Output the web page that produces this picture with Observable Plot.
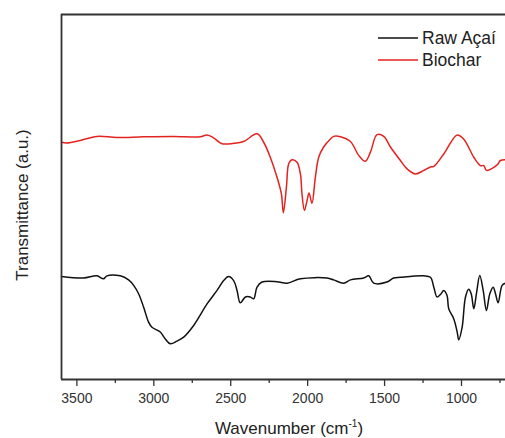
<!DOCTYPE html>
<html><head><meta charset="utf-8">
<script src="https://cdn.jsdelivr.net/npm/d3@7"></script>
<script src="https://cdn.jsdelivr.net/npm/@observablehq/plot@0.6"></script>
<style>
html,body{margin:0;padding:0;background:#fff;}
#chart{position:relative;width:505px;height:438px;overflow:hidden;}
</style></head>
<body><div id="chart"></div>
<script>
// Wavenumber (cm^-1) and transmittance (a.u.)
const rawWave = [3600,3457,3370,3327,3305,3218,3164,3131,3099,3066,3034,3012,2958,2925,2893,2850,2806,2741,2654,2589,2546,2514,2481,2459,2438,2405,2373,2351,2329,2297,2199,2134,2047,1874,1831,1766,1722,1636,1603,1571,1484,1441,1397,1245,1202,1180,1159,1137,1115,1094,1083,1050,1028,1018,996,974,953,937,920,903,881,859,838,816,794,779,762,736,714];
const rawValue = [28.2,27.8,28.4,27.6,28.4,28.4,27.3,25.8,23.5,19.8,15.7,14.3,13.0,11.1,9.8,10.5,11.6,14.8,20.7,24.4,27.1,28.2,27.1,24.4,21.0,22.6,22.6,22.1,25.3,26.7,26.8,26.4,27.6,27.8,27.3,26.4,27.3,27.8,28.4,26.4,26.7,27.8,28.0,28.4,28.0,25.3,22.6,23.3,24.4,23.0,19.4,16.6,13.0,10.9,14.3,22.6,24.7,23.5,19.4,23.5,28.5,24.4,18.9,23.5,25.3,23.5,21.0,25.8,26.4];
const bioWave = [3600,3565,3478,3370,3240,3066,2871,2698,2654,2611,2557,2481,2416,2329,2286,2243,2199,2171,2158,2138,2123,2102,2069,2047,2037,2021,2004,1991,1972,1950,1928,1896,1852,1831,1787,1722,1668,1625,1592,1549,1505,1462,1397,1354,1299,1245,1202,1180,1115,1028,985,920,877,855,838,768,747,714];
const bioValue = [65.0,64.8,65.5,66.6,66.3,66.5,66.6,66.5,67.0,66.2,64.6,64.7,65.2,67.3,65.0,60.9,55.4,50.9,45.7,52.7,59.1,60.2,59.5,56.3,50.9,46.3,49.0,51.1,48.3,55.4,60.9,63.7,65.9,66.6,66.5,65.2,61.4,59.8,62.3,67.1,66.6,63.7,60.0,57.7,56.3,57.3,58.2,58.4,61.8,67.0,65.8,60.9,58.6,58.6,57.3,58.8,60.0,60.2];
const seriesNames = ["Raw Açaí", "Biochar"];
const seriesColors = ["#111111", "#e3231f"];
const majorTicks = [3500, 3000, 2500, 2000, 1500, 1000];
const minorTicks = [3250, 2750, 2250, 1750, 1250, 750];
const xDomain = [3600, 714];
const yDomain = [0, 100];

const data = [
  ...rawWave.map((w, i) => ({wave: w, value: rawValue[i], series: seriesNames[0]})),
  ...bioWave.map((w, i) => ({wave: w, value: bioValue[i], series: seriesNames[1]}))
];

const font = "'Liberation Sans', Arial, sans-serif";
const frameColor = "#333";

const plot = Plot.plot({
  width: 505, height: 438,
  marginLeft: 61, marginRight: 0, marginTop: 14, marginBottom: 59,
  style: {fontFamily: font, fontSize: "14px", color: "#222", background: "#fff"},
  x: {domain: xDomain, label: null},
  y: {domain: yDomain, label: null, axis: null},
  color: {domain: seriesNames, range: seriesColors},
  marks: [
    Plot.line(data, {x: "wave", y: "value", z: "series", stroke: "series", strokeWidth: 1.5, curve: "catmull-rom"}),
    Plot.ruleX([xDomain[0]], {stroke: frameColor, strokeWidth: 1.8}),
    Plot.ruleY([yDomain[0], yDomain[1]], {stroke: frameColor, strokeWidth: 1.8}),
    Plot.axisX({ticks: majorTicks, tickFormat: d3.format("d"), tickSize: 7, tickPadding: 7, stroke: frameColor, strokeWidth: 1.3, label: null, fontSize: 14, fill: "#333"}),
    Plot.axisX({ticks: minorTicks, tickSize: 4, text: null, stroke: frameColor, strokeWidth: 1.3, label: null})
  ]
});

document.getElementById("chart").appendChild(plot);

const svg = d3.select(plot);
// X axis title
const xt = svg.append("text")
  .attr("x", 289).attr("y", 434)
  .attr("text-anchor", "middle")
  .attr("font-family", font).attr("font-size", 17).attr("fill", "#222");
xt.append("tspan").text("Wavenumber (cm");
xt.append("tspan").attr("font-size", 10).attr("dy", -7).text("-1");
xt.append("tspan").attr("dy", 7).text(")");
// Y axis title
svg.append("text")
  .attr("transform", "translate(28,205) rotate(-90)")
  .attr("text-anchor", "middle")
  .attr("font-family", font).attr("font-size", 17).attr("fill", "#222")
  .text("Transmittance (a.u.)");
// Legend
const lg = svg.append("g");
seriesNames.forEach((name, i) => {
  const yy = 38 + i * 22;
  lg.append("line").attr("x1", 378).attr("x2", 418).attr("y1", yy).attr("y2", yy)
    .attr("stroke", seriesColors[i]).attr("stroke-width", 1.5);
  lg.append("text").attr("x", 422).attr("y", yy + 6)
    .attr("text-anchor", "start")
    .attr("font-family", font).attr("font-size", 17.5).attr("fill", "#222").text(name);
});
</script>
</body></html>
